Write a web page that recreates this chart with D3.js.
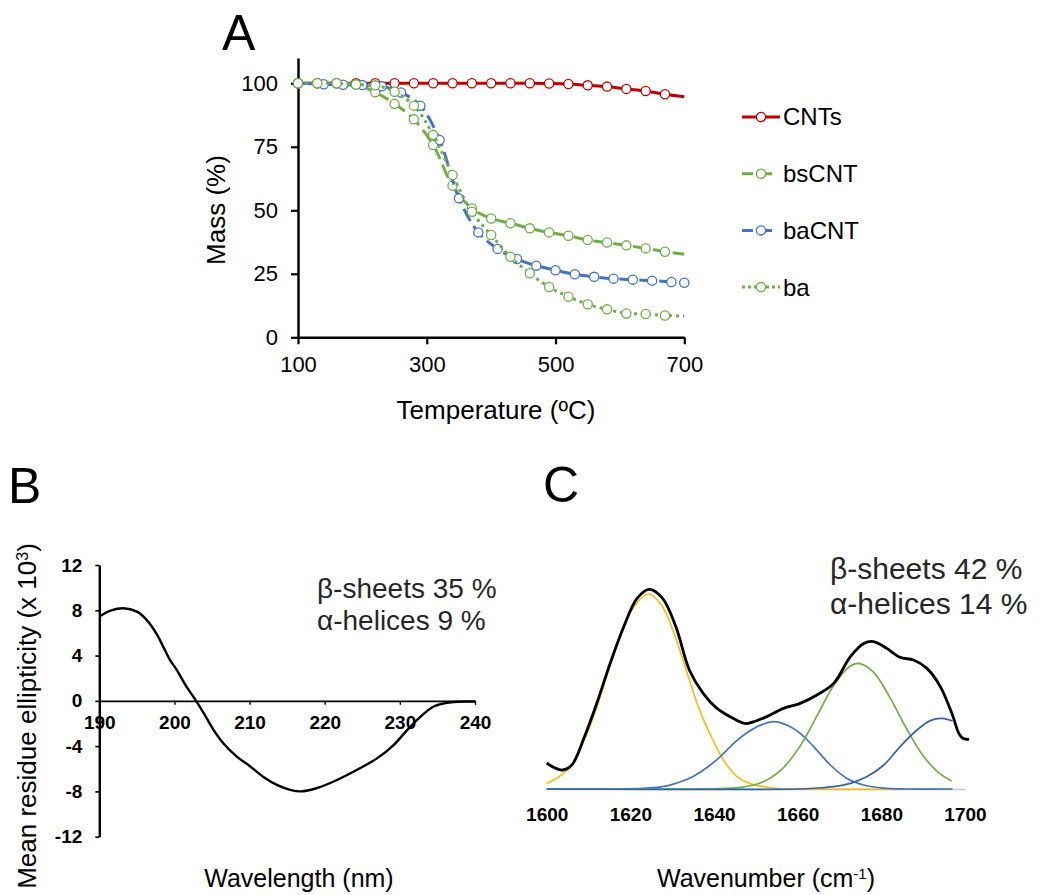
<!DOCTYPE html>
<html>
<head>
<meta charset="utf-8">
<script src="https://cdn.jsdelivr.net/npm/d3@7"></script>
<style>
  body { margin: 0; background: #fff; }
  svg text { font-family: "Liberation Sans", Arial, sans-serif; }
</style>
</head>
<body>
<svg id="fig" width="1045" height="895"></svg>
<script>
// ---- panel A : thermogravimetry ----
var tgaTemps   = [100,130,160,190,220,250,280,310,340,370,400,430,460,490,520,550,580,610,640,670,700];
var cntMass    = [100,100,100,100,100,100,100,100,100,100,100,100,100,99.9,99.7,99.2,98.7,97.8,97.0,95.7,94.7];
var bsCntMass  = [100,100,100,99.5,96.5,91.9,85.8,75.7,59.7,50.7,46.8,44.9,42.9,41.3,40.0,38.3,37.3,36.2,35.0,33.7,32.7];
var baMass     = [100,100,100,99.5,99.2,96.7,91.2,79.7,63.9,49.4,40.3,31.7,25.2,19.8,16.0,13.0,11.0,9.4,9.2,8.6,8.4];
var baCntTemps = [100,140,170,200,230,260,290,320,350,380,410,440,470,500,530,560,590,620,650,680,700];
var baCntMass  = [100,99.6,99.4,99.3,98.8,96.4,91.2,77.7,54.7,41.3,34.8,30.8,28.2,26.4,24.8,23.8,23.1,22.7,22.3,21.8,21.5];
var tempTicks  = [100,300,500,700];
var massTicks  = [0,25,50,75,100];

// ---- panel B : circular dichroism ----
var cdWavelength  = [190,191.5,193.2,195,196.3,197.7,198.5,199.4,200.3,201.6,202.8,203.9,205.2,206.5,208.3,210.1,211.9,213.7,215.4,216.8,219,221.7,224.3,227,229.2,231,232.8,234.5,236.8,240];
var cdEllipticity = [7.45,7.97,8.18,7.88,7.15,5.83,4.79,3.62,2.74,1.26,0.09,-1.09,-2.56,-3.74,-4.92,-5.8,-6.75,-7.45,-7.86,-8.0,-7.7,-6.97,-6.09,-5.06,-3.88,-2.56,-1.38,-0.5,-0.12,-0.06];
var cdXTicks = [190,200,210,220,230,240];
var cdYTicks = [12,8,4,0,-4,-8,-12];

// ---- panel C : FTIR amide I deconvolution ----
var ftirSpectrum = [[1600,0.13],[1602,0.105],[1603.8,0.095],[1606,0.12],[1609,0.26],[1612,0.43],[1615.2,0.63],[1618.4,0.81],[1621.6,0.953],[1624.5,0.998],[1627.7,0.953],[1630.9,0.81],[1634.1,0.595],[1637.4,0.478],[1640.7,0.403],[1644,0.36],[1647.5,0.327],[1650,0.34],[1652.6,0.362],[1656.6,0.403],[1660.6,0.428],[1664.6,0.47],[1668.6,0.528],[1672.6,0.662],[1675.8,0.728],[1678.1,0.737],[1681.3,0.703],[1684.5,0.658],[1687.7,0.645],[1690.9,0.603],[1694.1,0.512],[1697,0.37],[1698.6,0.275],[1699.6,0.252],[1701,0.248]];
var band1624 = [[1600,0.028],[1603,0.062],[1606,0.12],[1609,0.245],[1612,0.41],[1615,0.61],[1618,0.795],[1621,0.915],[1624.3,0.975],[1627.5,0.918],[1630.5,0.775],[1633.5,0.585],[1636.5,0.397],[1639.5,0.255],[1642.5,0.137],[1645.5,0.062],[1648.5,0.028],[1654,0.005],[1660,0],[1697,0]];
var band1654 = [[1600,0],[1618,0],[1624,0.004],[1629,0.017],[1632,0.036],[1635,0.063],[1638.5,0.11],[1641.5,0.162],[1644.7,0.228],[1647.8,0.28],[1651,0.318],[1654.2,0.337],[1657.4,0.32],[1660.6,0.278],[1663.8,0.212],[1667.8,0.12],[1671.8,0.053],[1675.8,0.02],[1680.6,0.004],[1686,0],[1697,0]];
var band1675 = [[1600,0],[1636,0],[1641.5,0.002],[1646.4,0.008],[1651.2,0.031],[1656,0.094],[1660.8,0.222],[1664.8,0.373],[1668.6,0.518],[1672.5,0.614],[1674.5,0.628],[1678,0.587],[1681.9,0.463],[1685.8,0.31],[1689.7,0.175],[1693.6,0.083],[1696.8,0.04]];
var band1694 = [[1600,0],[1660,0],[1664.6,0.005],[1668.6,0.012],[1672.6,0.028],[1676.6,0.062],[1680.6,0.12],[1684.5,0.212],[1688.5,0.295],[1691.7,0.342],[1694.5,0.353],[1697,0.34]];
var ftirTicks = [1600,1620,1640,1660,1680,1700];

var svg = d3.select("#fig");
svg.append("rect").attr("width", 1045).attr("height", 895).attr("fill", "#fff");

function styleAxis(g, fontSize, weight, domainWidth, tickWidth) {
    g.attr("font-family", null).attr("font-size", null);
    g.select(".domain").attr("stroke", "#000").attr("stroke-width", domainWidth);
    g.selectAll(".tick line").attr("stroke", "#000").attr("stroke-width", tickWidth);
    g.selectAll(".tick text").attr("fill", "#000")
        .style("font-size", fontSize + "px").style("font-weight", weight);
}

// ================= A =================
var xA = d3.scaleLinear().domain([100, 700]).range([298, 684.3]);
var yA = d3.scaleLinear().domain([0, 110]).range([337.3, 57.9]);

svg.append("g").attr("transform", "translate(0," + yA(0) + ")")
    .call(d3.axisBottom(xA).tickValues(tempTicks).tickSize(7).tickSizeOuter(0).tickPadding(12))
    .call(styleAxis, 22, "normal", 2.5, 2.2);
svg.append("g").attr("transform", "translate(" + xA(100) + ",0)")
    .call(d3.axisLeft(yA).tickValues(massTicks).tickSize(7).tickSizeOuter(0).tickPadding(13))
    .call(styleAxis, 22, "normal", 2.5, 2.2);

var tgaSeries = [
    { name: "CNTs",  temps: tgaTemps,   mass: cntMass,   color: "#C00000", dash: null,   endMarker: false },
    { name: "bsCNT", temps: tgaTemps,   mass: bsCntMass, color: "#70AD47", dash: "14,6", endMarker: false },
    { name: "baCNT", temps: baCntTemps, mass: baCntMass, color: "#4472C4", dash: "14,6", endMarker: true },
    { name: "ba",    temps: tgaTemps,   mass: baMass,    color: "#70AD47", dash: "3,4",  endMarker: false }
];

var lineA = d3.line()
    .x(d => xA(d[0])).y(d => yA(d[1]))
    .curve(d3.curveCatmullRom.alpha(0.5));

tgaSeries.forEach(function(s) {
    var pts = s.temps.map((t, i) => [t, s.mass[i]]);
    var g = svg.append("g").attr("class", "series");
    g.append("path").datum(pts)
        .attr("d", lineA)
        .attr("fill", "none")
        .attr("stroke", s.color)
        .attr("stroke-width", 3)
        .attr("stroke-dasharray", s.dash);
    g.selectAll("circle")
        .data(s.endMarker ? pts : pts.slice(0, -1))
      .enter().append("circle")
        .attr("cx", d => xA(d[0]))
        .attr("cy", d => yA(d[1]))
        .attr("r", 4.6)
        .attr("fill", "#fff")
        .attr("stroke", s.color)
        .attr("stroke-width", 1.3);
});

// legend
var legend = svg.selectAll("g.legend")
    .data(tgaSeries)
  .enter().append("g")
    .attr("class", "legend")
    .attr("transform", (d, i) => "translate(742," + (117 + i * 56.7) + ")");
legend.append("line")
    .attr("x1", 0).attr("x2", 38)
    .attr("stroke", d => d.color)
    .attr("stroke-width", 3)
    .attr("stroke-dasharray", d => d.dash ? (d.dash == "3,4" ? "3,3" : "11,8") : null);
legend.append("circle")
    .attr("cx", 19).attr("r", 4.6)
    .attr("fill", "#fff").attr("stroke", d => d.color).attr("stroke-width", 1.3);
legend.append("text")
    .attr("x", 41).attr("dy", "0.35em")
    .style("font-size", "24px")
    .text(d => d.name);

svg.append("text").attr("x", 496).attr("y", 419)
    .attr("text-anchor", "middle").style("font-size", "26px")
    .text("Temperature (ºC)");
svg.append("text")
    .attr("transform", "translate(225,210) rotate(-90)")
    .attr("text-anchor", "middle").style("font-size", "26px")
    .text("Mass (%)");

// ================= B =================
var xB = d3.scaleLinear().domain([190, 240]).range([99.3, 475]);
var yB = d3.scaleLinear().domain([-12, 12]).range([836.7, 565]);

svg.append("g").attr("transform", "translate(0," + yB(0) + ")")
    .call(d3.axisBottom(xB).tickValues(cdXTicks).tickSize(4).tickSizeOuter(0).tickPadding(11).tickFormat(d => String(d)))
    .call(styleAxis, 19, "bold", 1.6, 1.4);
svg.append("g").attr("transform", "translate(" + xB(190) + ",0)")
    .call(d3.axisLeft(yB).tickValues(cdYTicks).tickSize(4).tickSizeOuter(0).tickPadding(13).tickFormat(d => String(d)))
    .call(styleAxis, 19, "bold", 2.4, 1.6);

svg.append("path")
    .datum(cdWavelength.map((w, i) => [w, cdEllipticity[i]]))
    .attr("d", d3.line().x(d => xB(d[0])).y(d => yB(d[1])).curve(d3.curveCatmullRom.alpha(0.5)))
    .attr("fill", "none").attr("stroke", "#000").attr("stroke-width", 2.4);

var noteB = svg.append("text").style("font-size", "28px").attr("fill", "#262626");
noteB.append("tspan").attr("x", 317).attr("y", 598).text("β-sheets 35 %");
noteB.append("tspan").attr("x", 317).attr("y", 630).text("α-helices 9 %");

svg.append("text").attr("x", 299).attr("y", 887)
    .attr("text-anchor", "middle").style("font-size", "25px")
    .text("Wavelength (nm)");
var ylabB = svg.append("text")
    .attr("transform", "translate(36,716) rotate(-90)")
    .attr("text-anchor", "middle").style("font-size", "26px");
ylabB.append("tspan").text("Mean residue ellipticity (x 10");
ylabB.append("tspan").attr("baseline-shift", "super").style("font-size", "16px").text("3");
ylabB.append("tspan").text(")");

// ================= C =================
var xC = d3.scaleLinear().domain([1600, 1700]).range([546.7, 965]);
var yC = d3.scaleLinear().domain([0, 1]).range([789, 589]);

var axC = svg.append("g").attr("transform", "translate(0," + yC(0) + ")")
    .call(d3.axisBottom(xC).tickValues(ftirTicks).tickSize(0).tickSizeOuter(0).tickPadding(19).tickFormat(d3.format("d")))
    .call(styleAxis, 19, "bold", 1.6, 0);
axC.select(".domain").attr("stroke", "#c8c8c8");

var lineC = d3.line().x(d => xC(d[0])).y(d => yC(d[1])).curve(d3.curveCatmullRom.alpha(0.5));
var bands = [
    { pts: band1624, color: "#F2BE1A" },
    { pts: band1654, color: "#4472C4" },
    { pts: band1675, color: "#70AD47" },
    { pts: band1694, color: "#3463A8" }
];
svg.selectAll("path.band")
    .data(bands)
  .enter().append("path")
    .attr("class", "band")
    .attr("d", d => lineC(d.pts))
    .attr("fill", "none")
    .attr("stroke", d => d.color)
    .attr("stroke-width", 1.7);
svg.append("path").datum(ftirSpectrum)
    .attr("d", lineC)
    .attr("fill", "none").attr("stroke", "#000").attr("stroke-width", 2.8);

var noteC = svg.append("text").style("font-size", "30px").attr("fill", "#262626");
noteC.append("tspan").attr("x", 830).attr("y", 579).text("β-sheets 42 %");
noteC.append("tspan").attr("x", 830).attr("y", 614).text("α-helices 14 %");

var xlabC = svg.append("text").attr("x", 766).attr("y", 887)
    .attr("text-anchor", "middle").style("font-size", "25px");
xlabC.append("tspan").text("Wavenumber (cm");
xlabC.append("tspan").attr("baseline-shift", "super").style("font-size", "15px").text("-1");
xlabC.append("tspan").text(")");

// panel letters
svg.append("text").attr("x", 222).attr("y", 50).style("font-size", "50px").text("A");
svg.append("text").attr("x", 8).attr("y", 503).style("font-size", "50px").text("B");
svg.append("text").attr("x", 543).attr("y", 502).style("font-size", "50px").text("C");
</script>
</body>
</html>
